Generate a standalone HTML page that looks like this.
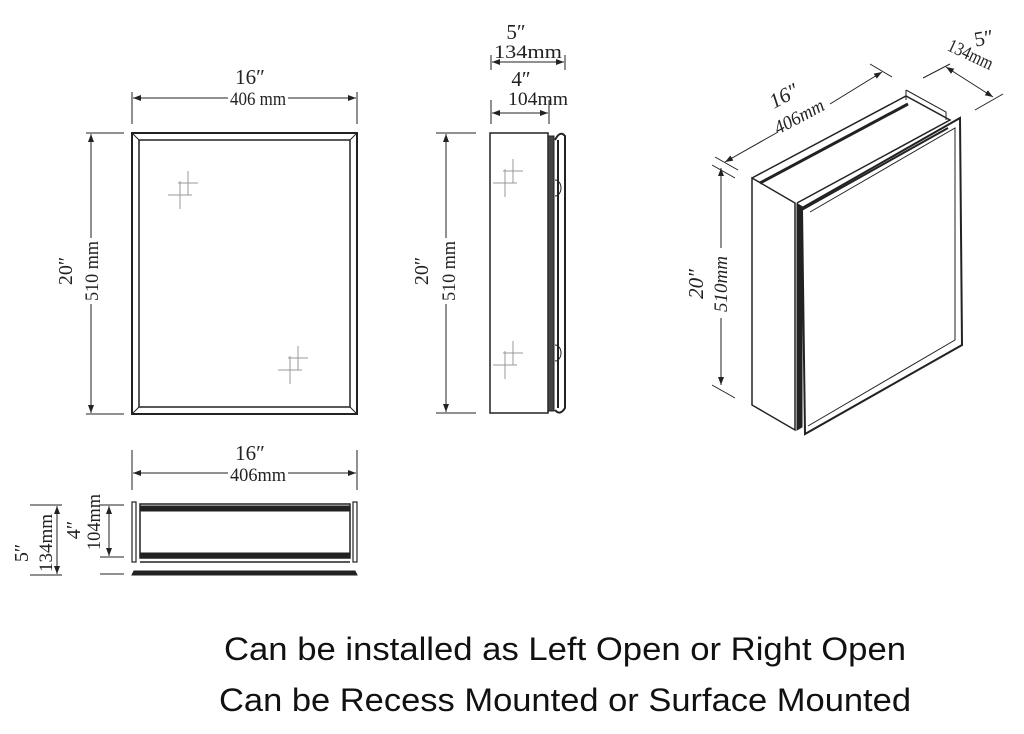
<!DOCTYPE html>
<html><head><meta charset="utf-8"><style>
html,body{margin:0;padding:0;background:#fff;width:1024px;height:734px;overflow:hidden}
svg{display:block}
.d{font-family:"Liberation Serif",serif;font-size:19px;fill:#222}
.b{font-family:"Liberation Sans",sans-serif;font-size:32px;fill:#111}
</style></head><body>
<svg width="1024" height="734" viewBox="0 0 1024 734" xmlns="http://www.w3.org/2000/svg">
<defs>
<marker id="a" markerWidth="8" markerHeight="6" refX="8" refY="3" orient="auto-start-reverse" markerUnits="userSpaceOnUse"><path d="M0,0L8,3L0,6z" fill="#222"/></marker>
<g id="sp" stroke="#999" stroke-width="1">
<line x1="-12" y1="0" x2="12" y2="0"/><line x1="0" y1="-14" x2="0" y2="14"/>
<line x1="-2" y1="-12" x2="18" y2="-12"/><line x1="8" y1="-24" x2="8" y2="0"/>
</g>
</defs>
<g fill="none" stroke="#222" stroke-width="1">
<rect x="132" y="133" width="225" height="281" stroke-width="2"/>
<rect x="139" y="140" width="211" height="267" stroke-width="1.5"/>
<line x1="132" y1="133" x2="139" y2="140"/><line x1="357" y1="133" x2="350" y2="140"/>
<line x1="132" y1="414" x2="139" y2="407"/><line x1="357" y1="414" x2="350" y2="407"/>
<line x1="132" y1="92" x2="132" y2="124"/><line x1="357" y1="92" x2="357" y2="124"/>
<line x1="133" y1="98" x2="228" y2="98" marker-start="url(#a)"/><line x1="288" y1="98" x2="356" y2="98" marker-end="url(#a)"/>
<line x1="86" y1="133" x2="124" y2="133"/><line x1="86" y1="414" x2="124" y2="414"/>
<line x1="91" y1="134" x2="91" y2="238" marker-start="url(#a)"/><line x1="91" y1="304" x2="91" y2="413" marker-end="url(#a)"/>
<rect x="490" y="133" width="58" height="280" stroke-width="1.5"/>
<rect x="548" y="136" width="6" height="275" fill="#444"/>
<path d="M555,140 Q560,130 565,136 L565,408 Q560,416 555,410" stroke-width="2"/>
<line x1="558" y1="140" x2="558" y2="408" stroke-width="2"/>
<path d="M555,180 a6,8 0 0 1 0,16"/><path d="M555,345 a6,8 0 0 1 0,16"/>
<line x1="491" y1="55" x2="491" y2="70"/><line x1="565" y1="55" x2="565" y2="70"/>
<line x1="492" y1="62" x2="564" y2="62" marker-start="url(#a)" marker-end="url(#a)"/>
<line x1="491" y1="100" x2="491" y2="124"/><line x1="549" y1="100" x2="549" y2="124"/>
<line x1="492" y1="113" x2="548" y2="113" marker-start="url(#a)" marker-end="url(#a)"/>
<line x1="436" y1="133" x2="476" y2="133"/><line x1="436" y1="413" x2="476" y2="413"/>
<line x1="446" y1="134" x2="446" y2="238" marker-start="url(#a)"/><line x1="446" y1="304" x2="446" y2="412" marker-end="url(#a)"/>
<line x1="132" y1="450" x2="132" y2="490"/><line x1="357" y1="450" x2="357" y2="490"/>
<line x1="133" y1="473" x2="228" y2="473" marker-start="url(#a)"/><line x1="288" y1="473" x2="356" y2="473" marker-end="url(#a)"/>
<rect x="132" y="502" width="4" height="60" stroke-width="1.2"/><rect x="353" y="502" width="4" height="60" stroke-width="1.2"/>
<rect x="140" y="504" width="210" height="54" stroke-width="1.5"/>
<rect x="140" y="506" width="210" height="5" fill="#222"/>
<rect x="140" y="553" width="210" height="5" fill="#222"/>
<line x1="140" y1="562" x2="350" y2="562" stroke-width="1.5"/>
<path d="M132,575 L357,575 L355,571 L134,571 Z" fill="#222"/>
<line x1="100" y1="505" x2="124" y2="505"/><line x1="100" y1="557" x2="124" y2="557"/><line x1="100" y1="574" x2="124" y2="574"/>
<line x1="109" y1="506" x2="109" y2="556" marker-start="url(#a)" marker-end="url(#a)"/>
<line x1="30" y1="505" x2="62" y2="505"/><line x1="30" y1="575" x2="62" y2="575"/>
<line x1="57" y1="506" x2="57" y2="574" marker-start="url(#a)" marker-end="url(#a)"/>
<path d="M752,178 L752,405 L795,430 L795,203 Z" stroke-width="1.5"/>
<path d="M752,178 L906,96 L950,120 L797,203" stroke-width="1.5"/>
<path d="M760,183 L908,104" stroke-width="3"/>
<path d="M906,90 L906,100 M906,90 L946,112 L946,120"/>
<path d="M797,203 L797,430 L802,427 L802,206" fill="#222"/>
<path d="M802,208 L960,118 L962,345 L805,434 Z" stroke-width="2"/>
<path d="M810,212 L955,128 L955,340 L808,426" stroke-width="1"/>
<path d="M798,212 L948,128" stroke-width="2"/>
<line x1="715" y1="157" x2="738" y2="170"/><line x1="870" y1="64" x2="892" y2="77"/>
<line x1="725" y1="162" x2="778" y2="132" marker-start="url(#a)"/><line x1="830" y1="104" x2="882" y2="72" marker-end="url(#a)"/>
<line x1="923" y1="78" x2="950" y2="64"/><line x1="975" y1="110" x2="1003" y2="94"/>
<line x1="946" y1="67" x2="993" y2="97" marker-start="url(#a)" marker-end="url(#a)"/>
<line x1="712" y1="165" x2="735" y2="178"/><line x1="712" y1="385" x2="735" y2="398"/>
<line x1="721" y1="168" x2="721" y2="248" marker-start="url(#a)"/><line x1="721" y1="318" x2="721" y2="385" marker-end="url(#a)"/>
</g>
<use href="#sp" x="180" y="195"/><use href="#sp" x="290" y="370"/>
<use href="#sp" x="505" y="183"/><use href="#sp" x="505" y="365"/>
<g class="d" lengthAdjust="spacingAndGlyphs">
<text x="250" y="84" text-anchor="middle" font-size="21">16″</text>
<text x="258" y="105" text-anchor="middle" textLength="56" lengthAdjust="spacingAndGlyphs">406 mm</text>
<text x="516" y="39" text-anchor="middle" font-size="21">5″</text>
<text x="528" y="58" text-anchor="middle" textLength="68" lengthAdjust="spacingAndGlyphs">134mm</text>
<text x="521" y="86" text-anchor="middle" font-size="21">4″</text>
<text x="538" y="105" text-anchor="middle" textLength="60" lengthAdjust="spacingAndGlyphs">104mm</text>
<text x="250" y="460" text-anchor="middle" font-size="21">16″</text>
<text x="258" y="481" text-anchor="middle" textLength="56" lengthAdjust="spacingAndGlyphs">406mm</text>
<text transform="translate(72,271) rotate(-90)" text-anchor="middle" font-size="20">20″</text>
<text transform="translate(98,271) rotate(-90)" text-anchor="middle" textLength="60" lengthAdjust="spacingAndGlyphs">510 mm</text>
<text transform="translate(428,271) rotate(-90)" text-anchor="middle" font-size="20">20″</text>
<text transform="translate(455,271) rotate(-90)" text-anchor="middle" textLength="60" lengthAdjust="spacingAndGlyphs">510 mm</text>
<text transform="translate(28,553) rotate(-90)" text-anchor="middle" font-size="20">5″</text>
<text transform="translate(52,543) rotate(-90)" text-anchor="middle" textLength="58" lengthAdjust="spacingAndGlyphs">134mm</text>
<text transform="translate(80,530) rotate(-90)" text-anchor="middle" font-size="20">4″</text>
<text transform="translate(100,522) rotate(-90)" text-anchor="middle" textLength="56" lengthAdjust="spacingAndGlyphs">104mm</text>
<text transform="translate(787,102) rotate(-28)" text-anchor="middle" font-size="21" font-style="italic">16″</text>
<text transform="translate(802,122) rotate(-28)" text-anchor="middle" font-style="italic" textLength="54" lengthAdjust="spacingAndGlyphs">406mm</text>
<text transform="translate(985,45) rotate(-10)" text-anchor="middle" font-size="21">5″</text>
<text transform="translate(968,60) rotate(25)" text-anchor="middle" textLength="48" lengthAdjust="spacingAndGlyphs">134mm</text>
<text transform="translate(703,284) rotate(-90)" text-anchor="middle" font-size="21" font-style="italic">20″</text>
<text transform="translate(727,284) rotate(-90)" text-anchor="middle" font-style="italic" textLength="56" lengthAdjust="spacingAndGlyphs">510mm</text>
</g>
<text class="b" x="565" y="660" text-anchor="middle" textLength="682" lengthAdjust="spacingAndGlyphs">Can be installed as Left Open or Right Open</text>
<text class="b" x="565" y="711" text-anchor="middle" textLength="692" lengthAdjust="spacingAndGlyphs">Can be Recess Mounted or Surface Mounted</text>
</svg>
</body></html>
